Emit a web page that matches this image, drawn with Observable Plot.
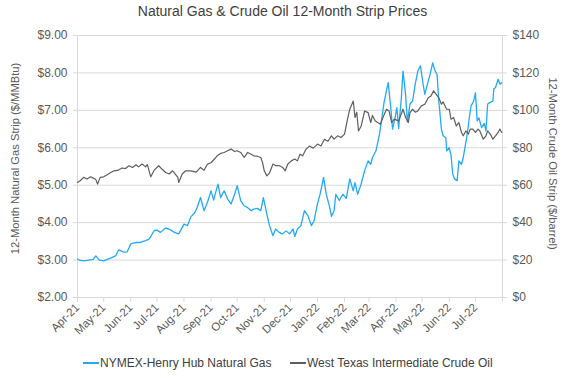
<!DOCTYPE html>
<html><head><meta charset="utf-8">
<script src="https://cdn.jsdelivr.net/npm/d3@7"></script>
<script src="https://cdn.jsdelivr.net/npm/@observablehq/plot@0.6"></script>
<style>
body{margin:0;background:#fff;font-family:"Liberation Sans",Arial,sans-serif;}
#wrap{position:relative;width:565px;height:378px;overflow:hidden;background:#fff;}
#chart{position:absolute;left:0;top:0;}
#title{position:absolute;left:0;top:3px;width:565px;text-align:center;font-size:14px;line-height:16px;color:#404040;}
#legend{position:absolute;top:355px;left:0;width:565px;height:16px;font-size:12px;line-height:16px;color:#404040;}
.item{position:absolute;top:0;display:flex;align-items:center;white-space:nowrap;}
.sw{display:inline-block;width:16px;height:1.5px;margin-right:1px;}
</style></head>
<body>
<div id="wrap"><div id="chart"></div><div id="title">Natural Gas &amp; Crude Oil 12-Month Strip Prices</div><div id="legend"></div></div>
<script>
const chartTitle = "Natural Gas & Crude Oil 12-Month Strip Prices";
const leftTitle = "12-Month Natural Gas Strip ($/MMBtu)";
const rightTitle = "12-Month Crude Oil Strip ($/barrel)";
const seriesNames = ["NYMEX-Henry Hub Natural Gas", "West Texas Intermediate Crude Oil"];
const seriesColors = ["#22aaf6", "#5e5e5e"];

const xStart = "2021-04-01";
const xEnd = "2022-08-01";
const monthTicks = ["2021-04-01","2021-05-01","2021-06-01","2021-07-01","2021-08-01","2021-09-01","2021-10-01","2021-11-01","2021-12-01","2022-01-01","2022-02-01","2022-03-01","2022-04-01","2022-05-01","2022-06-01","2022-07-01"];
const gasTicks = [2,3,4,5,6,7,8,9];
const oilTicks = [0,20,40,60,80,100,120,140];

const gasDates = ["2021-04-01","2021-04-04","2021-04-09","2021-04-14","2021-04-19","2021-04-22","2021-04-26","2021-05-01","2021-05-05","2021-05-09","2021-05-15","2021-05-18","2021-05-24","2021-05-28","2021-06-01","2021-06-07","2021-06-12","2021-06-18","2021-06-22","2021-06-28","2021-07-01","2021-07-05","2021-07-11","2021-07-17","2021-07-21","2021-07-26","2021-08-01","2021-08-05","2021-08-09","2021-08-13","2021-08-16","2021-08-20","2021-08-24","2021-08-28","2021-09-01","2021-09-04","2021-09-06","2021-09-09","2021-09-12","2021-09-16","2021-09-20","2021-09-24","2021-09-28","2021-10-01","2021-10-05","2021-10-09","2021-10-13","2021-10-17","2021-10-20","2021-10-24","2021-10-28","2021-10-31","2021-11-04","2021-11-07","2021-11-11","2021-11-14","2021-11-18","2021-11-22","2021-11-26","2021-11-30","2021-12-04","2021-12-06","2021-12-09","2021-12-13","2021-12-17","2021-12-21","2021-12-25","2021-12-28","2022-01-01","2022-01-04","2022-01-08","2022-01-11","2022-01-15","2022-01-17","2022-01-20","2022-01-22","2022-01-26","2022-01-30","2022-02-03","2022-02-07","2022-02-11","2022-02-13","2022-02-16","2022-02-20","2022-02-24","2022-02-28","2022-03-03","2022-03-05","2022-03-09","2022-03-13","2022-03-15","2022-03-18","2022-03-21","2022-03-23","2022-03-26","2022-03-28","2022-03-31","2022-04-02","2022-04-04","2022-04-07","2022-04-09","2022-04-12","2022-04-14","2022-04-17","2022-04-20","2022-04-23","2022-04-26","2022-04-29","2022-05-02","2022-05-04","2022-05-07","2022-05-10","2022-05-13","2022-05-15","2022-05-18","2022-05-20","2022-05-23","2022-05-25","2022-05-28","2022-05-29","2022-06-01","2022-06-03","2022-06-05","2022-06-07","2022-06-10","2022-06-12","2022-06-15","2022-06-17","2022-06-19","2022-06-21","2022-06-24","2022-06-26","2022-06-29","2022-07-01","2022-07-03","2022-07-05","2022-07-08","2022-07-11","2022-07-13","2022-07-15","2022-07-17","2022-07-21","2022-07-22","2022-07-24","2022-07-27","2022-07-29","2022-07-31"];
const gasValues = [3.03,2.99,2.98,3.00,3.02,3.11,3.00,2.98,3.02,3.05,3.12,3.27,3.21,3.22,3.43,3.47,3.47,3.52,3.56,3.79,3.80,3.74,3.86,3.80,3.74,3.70,3.96,3.92,4.16,4.25,4.40,4.67,4.32,4.55,4.85,4.60,4.78,5.03,4.67,4.85,4.63,4.50,4.76,4.99,4.59,4.45,4.40,4.32,4.36,4.38,4.32,4.67,4.23,3.92,3.65,3.83,3.74,3.70,3.78,3.70,3.83,3.63,3.83,3.92,4.32,4.19,3.92,4.05,4.50,4.76,5.21,4.76,4.41,4.17,4.32,4.76,4.59,4.76,4.65,5.17,4.85,5.07,4.76,5.03,5.39,5.65,5.56,5.74,5.92,6.36,6.67,7.17,7.52,7.74,7.07,6.50,6.81,7.07,6.52,7.30,8.05,7.40,6.70,7.17,7.25,7.70,8.05,8.19,7.70,7.43,7.70,7.96,8.27,8.10,7.96,7.25,6.50,6.32,6.27,5.92,6.00,5.80,5.30,5.17,5.12,5.65,5.56,5.74,6.01,6.27,6.81,7.12,7.25,7.47,6.72,6.80,6.54,6.65,6.45,7.17,7.20,7.25,7.57,7.61,7.83,7.70,7.74];

const oilDates = ["2021-04-01","2021-04-04","2021-04-08","2021-04-12","2021-04-16","2021-04-19","2021-04-22","2021-04-24","2021-04-27","2021-05-01","2021-05-05","2021-05-09","2021-05-13","2021-05-18","2021-05-22","2021-05-26","2021-05-30","2021-06-03","2021-06-07","2021-06-10","2021-06-14","2021-06-18","2021-06-20","2021-06-24","2021-06-28","2021-07-03","2021-07-07","2021-07-11","2021-07-15","2021-07-19","2021-07-25","2021-07-26","2021-07-30","2021-08-03","2021-08-09","2021-08-15","2021-08-20","2021-08-24","2021-08-28","2021-09-01","2021-09-05","2021-09-08","2021-09-12","2021-09-16","2021-09-20","2021-09-24","2021-09-28","2021-10-01","2021-10-05","2021-10-09","2021-10-13","2021-10-17","2021-10-20","2021-10-24","2021-10-28","2021-10-30","2021-11-01","2021-11-04","2021-11-07","2021-11-11","2021-11-14","2021-11-18","2021-11-22","2021-11-25","2021-11-28","2021-12-02","2021-12-06","2021-12-09","2021-12-12","2021-12-15","2021-12-19","2021-12-23","2021-12-27","2021-12-30","2022-01-01","2022-01-05","2022-01-09","2022-01-13","2022-01-17","2022-01-20","2022-01-24","2022-01-28","2022-02-01","2022-02-04","2022-02-07","2022-02-11","2022-02-13","2022-02-15","2022-02-17","2022-02-20","2022-02-24","2022-02-28","2022-03-03","2022-03-05","2022-03-08","2022-03-11","2022-03-14","2022-03-17","2022-03-21","2022-03-24","2022-03-27","2022-03-30","2022-04-04","2022-04-09","2022-04-12","2022-04-15","2022-04-17","2022-04-20","2022-04-23","2022-04-26","2022-04-30","2022-05-04","2022-05-08","2022-05-11","2022-05-14","2022-05-17","2022-05-20","2022-05-23","2022-05-25","2022-05-29","2022-06-01","2022-06-03","2022-06-06","2022-06-09","2022-06-12","2022-06-15","2022-06-17","2022-06-20","2022-06-23","2022-06-25","2022-06-28","2022-07-01","2022-07-04","2022-07-06","2022-07-10","2022-07-13","2022-07-15","2022-07-18","2022-07-21","2022-07-24","2022-07-27","2022-07-29","2022-07-31"];
const oilValues = [61.5,62.4,64.2,63.3,64.5,63.8,63.0,60.6,64.2,64.5,65.6,66.8,67.7,68.1,69.2,68.9,70.4,69.5,70.9,69.8,71.3,69.8,71.0,64.5,68.1,70.4,68.5,66.8,66.0,67.7,64.2,61.5,66.0,67.7,67.7,67.0,69.5,68.0,71.3,72.0,74.0,75.7,77.0,77.5,78.4,79.3,78.0,78.4,77.5,74.8,77.5,76.5,75.7,75.5,74.8,72.2,67.7,65.0,66.5,71.3,70.5,70.5,69.5,67.7,71.3,73.0,74.0,73.0,76.6,75.7,79.3,81.0,79.8,81.0,82.0,81.0,84.6,83.5,86.4,84.6,86.4,85.5,87.3,94.4,100.6,105.0,96.2,99.0,89.0,91.5,99.7,98.8,93.5,97.3,94.4,93.5,92.6,96.2,100.6,99.7,93.5,95.3,94.4,100.6,96.2,93.5,98.8,100.6,99.0,99.7,102.4,103.3,106.8,107.7,110.4,108.6,106.8,103.3,104.5,100.6,100.6,95.3,96.2,91.7,93.5,88.2,86.4,89.0,87.3,90.0,90.0,88.2,90.0,89.0,84.6,86.4,89.0,87.3,84.6,86.4,88.2,90.0,88.2];

const parse = d3.utcParse("%Y-%m-%d");
const gas = gasDates.map((d, i) => ({date: parse(d), value: gasValues[i]}));
const oil = oilDates.map((d, i) => ({date: parse(d), value: oilValues[i]}));
// right (oil) axis shares the pixel grid: $0 ↔ $2.00, $140 ↔ $9.00
const oilToGas = v => v / 20 + 2;
const fmtMonth = d3.utcFormat("%b-%y");
const tickColor = "#d9d9d9";
const textColor = "#595959";

const chart = Plot.plot({
  width: 565,
  height: 378,
  marginTop: 35,
  marginBottom: 81,
  marginLeft: 77,
  marginRight: 63,
  style: {fontFamily: "'Liberation Sans', Arial, sans-serif", fontSize: "12px", background: "transparent", color: textColor},
  x: {type: "utc", domain: [parse(xStart), parse(xEnd)]},
  y: {domain: [2, 9], label: null},
  marks: [
    Plot.gridY(gasTicks, {stroke: tickColor, strokeOpacity: 1, strokeWidth: 1}),
    Plot.ruleX([parse(xStart), parse(xEnd)], {stroke: tickColor, strokeWidth: 1}),
    Plot.axisY(gasTicks, {anchor: "left", tickFormat: d => "$" + d.toFixed(2), tickSize: 4, tickPadding: 6, stroke: tickColor, fill: textColor, fontSize: 12, label: null}),
    Plot.axisY(oilTicks.map(oilToGas), {anchor: "right", tickFormat: d => "$" + Math.round((d - 2) * 20), tickSize: 4, tickPadding: 6, stroke: tickColor, fill: textColor, fontSize: 12, label: null}),
    Plot.axisX(monthTicks.map(parse), {anchor: "bottom", tickFormat: fmtMonth, tickRotate: -45, tickSize: 5, tickPadding: 3, stroke: tickColor, fill: textColor, fontSize: 11.5, label: null}),
    Plot.axisX([parse(xEnd)], {anchor: "bottom", tickFormat: () => "", tickSize: 5, stroke: tickColor, label: null}),
    Plot.text([leftTitle], {text: d => d, frameAnchor: "left", textAnchor: "middle", rotate: -90, dx: -62, dy: -8, fontSize: 11.2, fill: textColor}),
    Plot.text([rightTitle], {text: d => d, frameAnchor: "right", textAnchor: "middle", rotate: 90, dx: 50, dy: -3, fontSize: 11.2, fill: textColor}),
    Plot.line(gas, {x: "date", y: "value", stroke: seriesColors[0], strokeWidth: 1.3}),
    Plot.line(oil, {x: "date", y: d => oilToGas(d.value), stroke: seriesColors[1], strokeWidth: 1.2})
  ]
});
document.getElementById("chart").appendChild(chart);

const legend = document.getElementById("legend");
const legendLeft = [83, 290];
seriesNames.forEach((name, i) => {
  const item = document.createElement("div");
  item.className = "item";
  item.style.left = legendLeft[i] + "px";
  const sw = document.createElement("span");
  sw.className = "sw";
  sw.style.background = seriesColors[i];
  item.appendChild(sw);
  item.appendChild(document.createTextNode(name));
  legend.appendChild(item);
});
</script>
</body></html>
